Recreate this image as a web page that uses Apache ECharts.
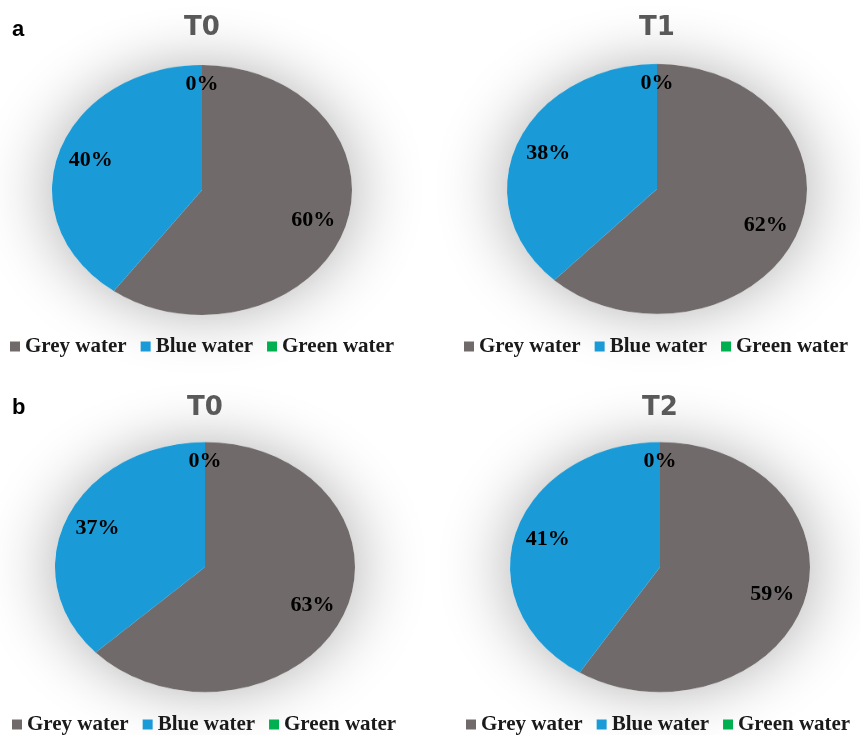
<!DOCTYPE html>
<html>
<head>
<meta charset="utf-8">
<script src="https://cdn.jsdelivr.net/npm/echarts@6/dist/echarts.min.js"></script>
<style>
html, body { margin: 0; padding: 0; background: #fff; }
#wrap { position: relative; width: 860px; height: 735px; overflow: hidden; }
#pies { position: absolute; left: 0; top: 0; width: 860px; transform-origin: 0 0; }
#front { position: absolute; left: 0; top: 0; width: 860px; height: 735px; }
</style>
</head>
<body>
<div id="wrap"><div id="pies"></div><div id="front"></div></div>
<script>
// 水的类别与颜色
const waterTypes = ['Grey water', 'Blue water', 'Green water'];
const waterColors = ['#706a6a', '#1a9bd7', '#00b050'];
// 四个饼图 (a: T0, T1 / b: T0, T2) 的占比 %
const panelNames = ['T0', 'T1', 'T0', 'T2'];
const greyShare = [60, 62, 63, 59];
const blueShare = [40, 38, 37, 41];
const greenShare = [0, 0, 0, 0];
const panelLetters = ['a', 'b'];

// 版面位置
const centers = [[202, 190], [657, 189], [205, 567], [660, 567]];
const rx = 150, ry = 125;
const k = ry / rx;                 // 椭圆压扁比例
const labelFrac = [0.75, 0.75, 0.81]; // 标签离圆心的距离（相对半径）

// 底层：压扁的饼图（只画扇形和阴影）
var pieDom = document.getElementById('pies');
pieDom.style.height = (735 / k) + 'px';
pieDom.style.transform = 'scaleY(' + k + ')';
var pieChart = echarts.init(pieDom);
var pieSeries = [];
centers.forEach(function (c, i) {
    // 阴影底盘
    pieSeries.push({
        type: 'pie',
        silent: true,
        z: 1,
        center: [c[0], c[1] / k],
        radius: rx,
        label: { show: false },
        labelLine: { show: false },
        data: [{ value: 1, itemStyle: { color: '#ffffff', shadowBlur: 70, shadowColor: 'rgba(0,0,0,0.32)' } }]
    });
    pieSeries.push({
        type: 'pie',
        silent: true,
        z: 2,
        center: [c[0], c[1] / k],
        radius: rx,
        startAngle: 90,
        label: { show: false },
        labelLine: { show: false },
        data: [
            { name: waterTypes[0], value: greyShare[i], itemStyle: { color: waterColors[0] } },
            { name: waterTypes[1], value: blueShare[i], itemStyle: { color: waterColors[1] } },
            { name: waterTypes[2], value: greenShare[i], itemStyle: { color: waterColors[2] } }
        ]
    });
});
pieChart.setOption({ animation: false, series: pieSeries });

// 上层：标题、图例、百分比标签
var frontChart = echarts.init(document.getElementById('front'));
var titles = [];
centers.forEach(function (c, i) {
    titles.push({
        text: panelNames[i],
        left: c[0],
        top: i < 2 ? 15 : 395,
        textAlign: 'center',
        padding: 0,
        textStyle: { fontFamily: 'DejaVu Sans', fontWeight: 'bold', fontSize: 26, color: '#595959' }
    });
});
panelLetters.forEach(function (t, i) {
    titles.push({
        text: t,
        left: 12,
        top: i == 0 ? 19 : 397,
        padding: 0,
        textStyle: { fontFamily: 'Liberation Sans', fontWeight: 'bold', fontSize: 22, color: '#000' }
    });
});

var legendLeft = [10, 464, 12, 466];
var legendTop = [336, 336, 714, 714];
var legends = legendLeft.map(function (l, i) {
    return {
        left: l,
        top: legendTop[i],
        padding: 0,
        icon: 'rect',
        itemWidth: 10,
        itemHeight: 10,
        itemGap: 14,
        selectedMode: false,
        textStyle: { fontFamily: 'Liberation Serif', fontWeight: 'bold', fontSize: 21, color: '#1a1a1a' },
        data: waterTypes.map(function (n, j) {
            return { name: n, itemStyle: { color: waterColors[j] } };
        })
    };
});

var labelSeries = centers.map(function (c, i) {
    return {
        type: 'pie',
        silent: true,
        center: c,
        radius: rx,
        startAngle: 90,
        itemStyle: { color: 'rgba(0,0,0,0)' },
        label: {
            show: true,
            position: 'inside',
            formatter: '{c}%',
            fontFamily: 'Liberation Serif',
            fontWeight: 'bold',
            fontSize: 22,
            color: '#000'
        },
        labelLayout: function (p) {
            var r = p.labelRect;
            var mx = r.x + r.width / 2, my = r.y + r.height / 2;
            var f = labelFrac[p.dataIndex] / 0.5;
            return {
                x: c[0] + (mx - c[0]) * f,
                y: c[1] + (my - c[1]) * f * k,
                align: 'center',
                verticalAlign: 'middle'
            };
        },
        data: [
            { name: waterTypes[0], value: greyShare[i] },
            { name: waterTypes[1], value: blueShare[i] },
            { name: waterTypes[2], value: greenShare[i] }
        ]
    };
});

frontChart.setOption({
    animation: false,
    title: titles,
    legend: legends,
    series: labelSeries
});
</script>
</body>
</html>
